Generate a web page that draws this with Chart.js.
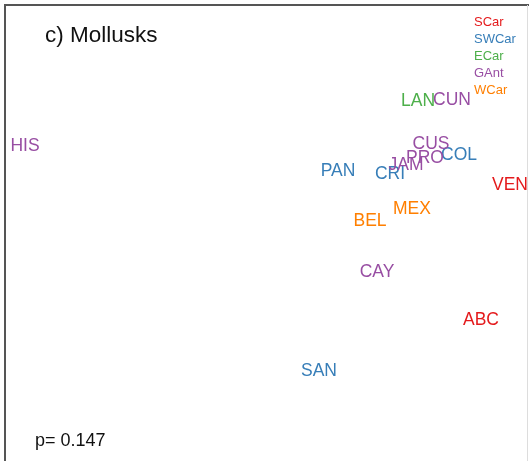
<!DOCTYPE html>
<html>
<head>
<meta charset="utf-8">
<script src="https://cdn.jsdelivr.net/npm/chart.js@4"></script>
<style>
html,body{margin:0;padding:0;background:#fff;}
#wrap{width:529px;height:461px;}
</style>
</head>
<body>
<div id="wrap"><canvas id="c" width="529" height="461"></canvas></div>
<script>
// Site labels and their ordination coordinates
const sites   = ['HIS','LAN','CUN','CUS','PRO','COL','JAM','CRI','PAN','VEN','MEX','BEL','CAY','ABC','SAN'];
const nmds1   = [-0.958,0.614,0.750,0.666,0.642,0.778,0.566,0.502,0.294,0.982,0.590,0.422,0.450,0.866,0.218];
const nmds2   = [0.338,0.518,0.522,0.346,0.290,0.302,0.262,0.226,0.238,0.182,0.086,0.038,-0.166,-0.358,-0.562];
const siteRegion = ['GAnt','ECar','GAnt','GAnt','GAnt','SWCar','GAnt','SWCar','SWCar','SCar','WCar','WCar','GAnt','SCar','SWCar'];
const regionNames  = ['SCar','SWCar','ECar','GAnt','WCar'];
const regionColors = ['#E41A1C','#377EB8','#4DAF4A','#984EA3','#FF7F00'];
const titleText = 'c) Mollusks';
const pText = 'p= 0.147';

const datasets = regionNames.map((r, ri) => {
  const pts = [];
  sites.forEach((s, i) => { if (siteRegion[i] === r) pts.push({x: nmds1[i], y: nmds2[i], label: s}); });
  return { label: r, data: pts, pointRadius: 0, pointHoverRadius: 0, borderColor: regionColors[ri], backgroundColor: regionColors[ri] };
});

const FONT = '"Liberation Sans", Arial, Helvetica, sans-serif';

const textPlugin = {
  id: 'textPlugin',
  afterDatasetsDraw(chart) {
    const ctx = chart.ctx;
    ctx.save();
    // frame
    ctx.strokeStyle = '#555';
    ctx.lineWidth = 2;
    ctx.beginPath();
    ctx.moveTo(5, 461); ctx.lineTo(5, 5); ctx.lineTo(529, 5);
    ctx.stroke();
    ctx.strokeStyle = '#ddd';
    ctx.lineWidth = 1;
    ctx.beginPath();
    ctx.moveTo(527.5, 5); ctx.lineTo(527.5, 461);
    ctx.stroke();

    // site labels
    ctx.textAlign = 'center';
    ctx.textBaseline = 'middle';
    ctx.font = '17.5px ' + FONT;
    chart.data.datasets.forEach((ds, di) => {
      const meta = chart.getDatasetMeta(di);
      ctx.fillStyle = ds.borderColor;
      meta.data.forEach((el, i) => {
        ctx.fillText(ds.data[i].label, el.x, el.y);
      });
    });

    // title
    ctx.fillStyle = '#111';
    ctx.textAlign = 'left';
    ctx.font = '22.5px ' + FONT;
    ctx.fillText(titleText, 45, 36);

    // legend
    ctx.font = '13px ' + FONT;
    regionNames.forEach((r, i) => {
      ctx.fillStyle = regionColors[i];
      ctx.fillText(r, 474, 22 + i * 17);
    });

    // p value
    ctx.fillStyle = '#111';
    ctx.font = '18px ' + FONT;
    ctx.fillText(pText, 35, 441);
    ctx.restore();
  }
};

new Chart(document.getElementById('c'), {
  type: 'scatter',
  data: { datasets },
  options: {
    responsive: false,
    animation: false,
    layout: { padding: 0 },
    plugins: { legend: { display: false }, tooltip: { enabled: false } },
    scales: {
      x: { type: 'linear', display: false, min: -1.058, max: 1.058 },
      y: { type: 'linear', display: false, min: -0.922, max: 0.922 }
    }
  },
  plugins: [textPlugin]
});
</script>
</body>
</html>
